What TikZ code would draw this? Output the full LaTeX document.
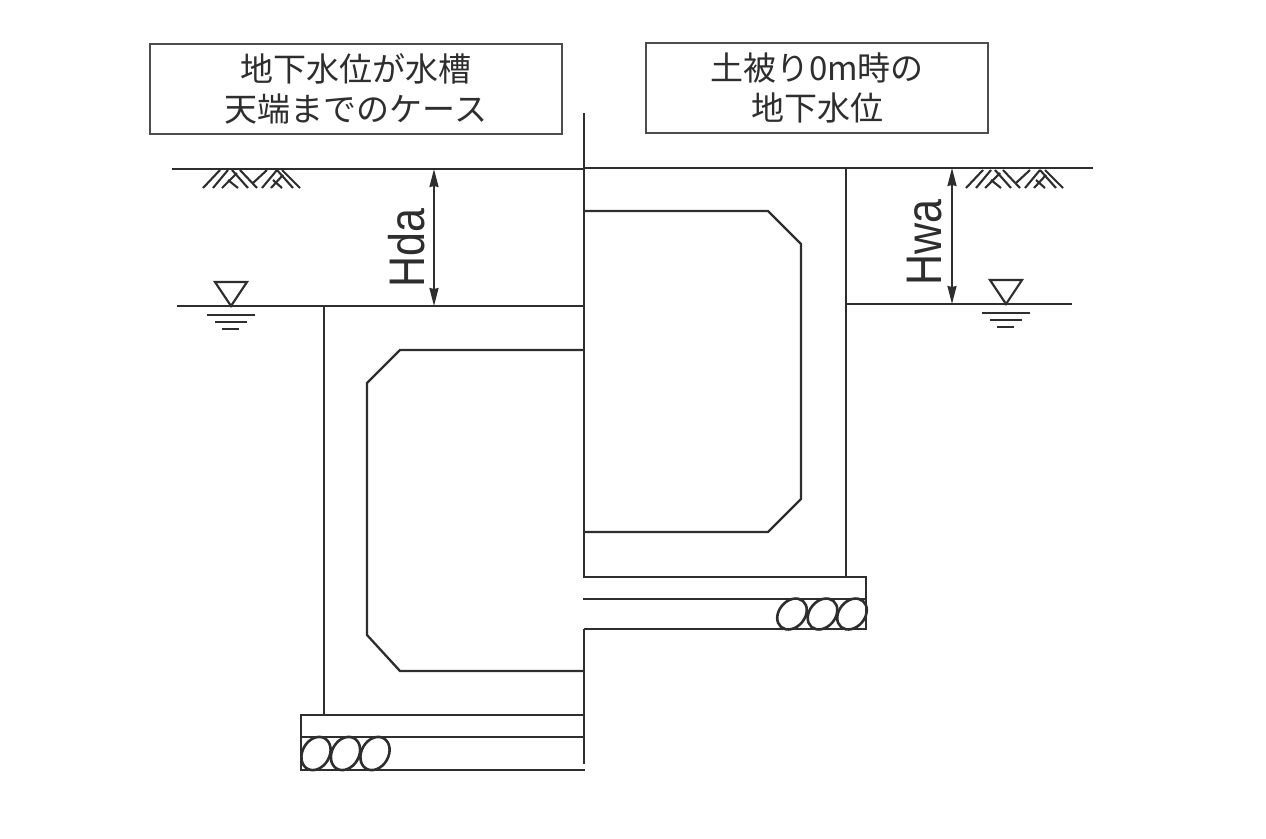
\documentclass[tikz,border=0pt]{standalone}
\usepackage{fontspec}
\usetikzlibrary{arrows.meta}
\newfontfamily\jp{Noto Sans CJK JP}
\newfontfamily\lat{Liberation Sans}
\definecolor{ink}{gray}{0.18}
\tikzset{
  ln/.style={draw=ink,line width=2.3pt},
  thin ln/.style={draw=ink,line width=2.1pt},
  rubble/.style={draw=ink,line width=2.6pt},
  label box/.style={draw=ink!85,line width=1.5pt,inner sep=0pt,align=center,font=\jp\fontsize{33}{40}\selectfont,text=ink},
  dim/.style={draw=ink,line width=1.9pt,{Stealth[length=18pt,width=9pt,inset=1pt]}-{Stealth[length=18pt,width=9pt,inset=1pt]}},
  dimtext/.style={font=\lat\fontsize{50}{50}\selectfont,text=ink,rotate=90,inner sep=0pt,xscale=0.86}
}
\newcommand{\hatchmark}[1]{%
  \begin{scope}[shift={(#1,0)}]
  \draw[thin ln] (203,188)--(220,170) (213,188)--(228,170) (222,188)--(237,173);
  \draw[thin ln] (228,180)--(238,188) (232,170)--(248,188) (240,170)--(257,188);
  \draw[thin ln] (253,183)--(267,170) (262,188)--(277,170) (271,188)--(283,175);
  \draw[thin ln] (273,180)--(282,188) (277,170)--(293,188) (282,170)--(300,188);
  \end{scope}}
\newcommand{\waterlevel}[3]{%
  \begin{scope}[shift={(#1,#2)}]
  \draw[thin ln] (0,0)--(-16,-#3)--(16,-#3)--cycle;
  \draw[thin ln] (-24,9)--(24,9) (-16,16)--(16,16) (-9,23)--(8,23);
  \end{scope}}
\begin{document}
\begin{tikzpicture}[x=1pt,y=-1pt]
\useasboundingbox (0,0) rectangle (1266,838);
\fill[white] (0,0) rectangle (1266,838);
% text boxes
\node[label box,minimum width=412pt,minimum height=90pt] (boxL) at (356,89) {地下水位が水槽\\天端までのケース};
\node[label box,minimum width=342pt,minimum height=90pt] (boxR) at (817,88) {土被り0m時の\\地下水位};
% ground and water lines
\draw[ln] (172,169)--(584,169);
\draw[ln] (584,168)--(1093,168);
\draw[ln] (177,306)--(584,306);
\draw[ln] (846,304)--(1072,304);
% centre line
\draw[ln] (584,113)--(584,576) (584,629)--(584,764);
% left tank
\draw[ln] (324,306)--(324,715);
\draw[ln] (584,350)--(400,350)--(367,383)--(367,635)--(400,671)--(584,671);
\draw[ln] (584,715)--(301,715)--(301,770)--(585,770);
\draw[ln] (301,737)--(584,737);
% right tank
\draw[ln] (846,168)--(846,577);
\draw[ln] (584,211)--(768,211)--(801,244)--(801,499)--(768,532)--(584,532);
\draw[ln] (583,577)--(866,577)--(866,629)--(584,629);
\draw[ln] (583,599)--(866,599);
% rubble
\foreach \cx in {316,345.5,375}{\draw[rubble] (\cx,753.5) ellipse [x radius=17.5,y radius=13.5,rotate=60];}
\foreach \cx in {792,822.5,852}{\draw[rubble] (\cx,614) ellipse [x radius=17,y radius=13,rotate=50];}
% hatch
\hatchmark{0}
\hatchmark{763}
% water marks
\waterlevel{231}{306}{24}
\waterlevel{1006}{304}{24}
% dimensions
\coordinate (dA1) at (434,169); \coordinate (dA2) at (434,306);
\coordinate (dB1) at (952,168); \coordinate (dB2) at (952,304);
\draw[dim] (dA1)--(dA2);
\draw[dim] (dB1)--(dB2);
\node[dimtext] (hda) at (407,248) {Hda};
\node[dimtext] (hwa) at (925,242.5) {Hwa};
\end{tikzpicture}
\end{document}
